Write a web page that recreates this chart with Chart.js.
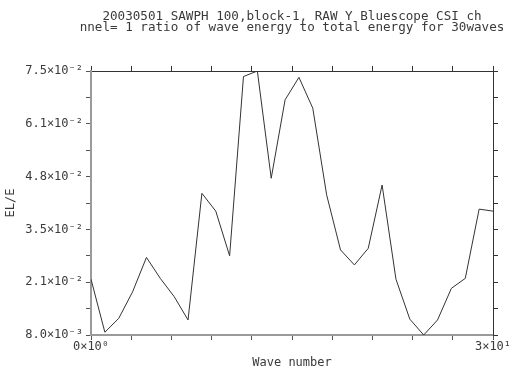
<!DOCTYPE html>
<html>
<head>
<meta charset="utf-8">
<script src="https://cdn.jsdelivr.net/npm/chart.js@4/dist/chart.umd.min.js"></script>
<style>
  html, body { margin: 0; padding: 0; background: #ffffff; }
  #wrap { width: 512px; height: 370px; }
</style>
</head>
<body>
<div id="wrap"><canvas id="c" width="512" height="370"></canvas></div>
<script>
const TITLE_LINES = [
  "20030501 SAWPH 100,block-1, RAW Y Bluescope CSI ch",
  "nnel= 1 ratio of wave energy to total energy for 30waves"
];
const X_TITLE = "Wave number";
const Y_TITLE = "EL/E";

const WAVES = [1, 2, 3, 4, 5, 6, 7, 8, 9, 10, 11, 12, 13, 14, 15,
               16, 17, 18, 19, 20, 21, 22, 23, 24, 25, 26, 27, 28, 29, 30];
const RATIO = [0.0221, 0.0087, 0.0122, 0.0189, 0.0276, 0.0223, 0.0177, 0.0118, 0.0438, 0.0393,
               0.0280, 0.0733, 0.0747, 0.0476, 0.0674, 0.0731, 0.0653, 0.0434, 0.0295, 0.0257,
               0.0299, 0.0459, 0.0221, 0.0120, 0.0080, 0.0118, 0.0198, 0.0223, 0.0398, 0.0393];

const Y_TICK_VALUES = [0.008, 0.02134, 0.03468, 0.04802, 0.06136, 0.0747];
const Y_TICK_LABELS = ["8.0×10⁻³", "2.1×10⁻²", "3.5×10⁻²", "4.8×10⁻²", "6.1×10⁻²", "7.5×10⁻²"];
const X_TICK_VALUES = [0, 3, 6, 9, 12, 15, 18, 21, 24, 27, 30];
const X_TICK_LABELS = ["0×10⁰", "", "", "", "", "", "", "", "", "", "3×10¹"];

const FONT = '"DejaVu Sans Mono", "Liberation Mono", monospace';
const TEXT_COLOR = '#3a3a3a';
const INK = '#333333';

// y ticks: majors from list plus midpoints between them (minor ticks)
function yTicksWithMinor() {
  const out = [];
  for (let i = 0; i < Y_TICK_VALUES.length; i++) {
    out.push({ value: Y_TICK_VALUES[i], major: true, label: Y_TICK_LABELS[i] });
    if (i < Y_TICK_VALUES.length - 1) {
      out.push({ value: (Y_TICK_VALUES[i] + Y_TICK_VALUES[i + 1]) / 2, label: '' });
    }
  }
  return out;
}
function xTicks() {
  return X_TICK_VALUES.map((v, i) => ({ value: v, label: X_TICK_LABELS[i] }));
}

const headerPlugin = {
  id: 'header',
  afterDraw(chart) {
    const ctx = chart.ctx;
    const ca = chart.chartArea;
    const cx = (ca.left + ca.right) / 2;
    ctx.save();
    ctx.font = '12.6px ' + FONT;
    ctx.fillStyle = TEXT_COLOR;
    ctx.textAlign = 'center';
    ctx.textBaseline = 'alphabetic';
    ctx.fillText(TITLE_LINES[0], cx, 20);
    ctx.fillText(TITLE_LINES[1], cx, 31);
    ctx.restore();
  }
};

const yMin = Y_TICK_VALUES[0];
const yMax = Y_TICK_VALUES[Y_TICK_VALUES.length - 1];

new Chart(document.getElementById('c'), {
  type: 'line',
  data: {
    datasets: [{
      data: WAVES.map((w, i) => ({ x: w, y: RATIO[i] })),
      xAxisID: 'xd',
      yAxisID: 'y',
      borderColor: INK,
      borderWidth: 1,
      pointRadius: 0,
      tension: 0,
      fill: false
    }]
  },
  options: {
    responsive: false,
    animation: false,
    devicePixelRatio: 1,
    layout: { padding: { top: 71, right: 19, bottom: 0, left: 0 } },
    plugins: { legend: { display: false }, title: { display: false }, tooltip: { enabled: false } },
    scales: {
      xd: {
        type: 'linear', display: false, min: WAVES[0], max: WAVES[WAVES.length - 1]
      },
      x: {
        type: 'linear', position: 'bottom', min: 0, max: 30,
        afterBuildTicks: s => { s.ticks = xTicks(); },
        afterFit: s => { s.height = 35; },
        border: { display: true, color: '#9a9a9a', width: 2 },
        grid: { drawOnChartArea: false, drawTicks: true, tickLength: 5, tickColor: '#555', tickWidth: 1 },
        ticks: {
          autoSkip: false, maxRotation: 0, padding: 0,
          font: { family: FONT, size: 12 }, color: TEXT_COLOR,
          callback: (v, i) => X_TICK_LABELS[i]
        },
        title: { display: true, text: X_TITLE, font: { family: FONT, size: 12 }, color: TEXT_COLOR, padding: { top: 0, bottom: 0 } }
      },
      xt: {
        type: 'linear', position: 'top', min: 0, max: 30,
        afterBuildTicks: s => { s.ticks = xTicks(); },
        afterFit: s => { s.height = 0; },
        border: { display: true, color: INK, width: 1 },
        grid: { drawOnChartArea: false, drawTicks: true, tickLength: 5, tickColor: INK, tickWidth: 1 },
        ticks: { display: true, callback: () => '', padding: 0, autoSkip: false }
      },
      y: {
        type: 'linear', position: 'left', min: yMin, max: yMax,
        afterBuildTicks: s => { s.ticks = yTicksWithMinor(); },
        afterFit: s => { s.width = 91; },
        border: { display: true, color: '#9a9a9a', width: 2 },
        grid: { drawOnChartArea: false, drawTicks: true, tickLength: 5, tickColor: '#555', tickWidth: 1 },
        ticks: {
          autoSkip: false, padding: 3,
          font: { family: FONT, size: 12 }, color: TEXT_COLOR,
          callback: function (v, i) { return this.ticks[i].label; }
        },
        title: { display: true, text: Y_TITLE, font: { family: FONT, size: 12 }, color: TEXT_COLOR, padding: { top: 4, bottom: 0 } }
      },
      yr: {
        type: 'linear', position: 'right', min: yMin, max: yMax,
        afterBuildTicks: s => { s.ticks = yTicksWithMinor(); },
        afterFit: s => { s.width = 0; },
        border: { display: true, color: INK, width: 1 },
        grid: { drawOnChartArea: false, drawTicks: true, tickLength: 5, tickColor: INK, tickWidth: 1 },
        ticks: { display: true, callback: () => '', padding: 0, autoSkip: false }
      }
    }
  },
  plugins: [headerPlugin]
});
</script>
</body>
</html>
